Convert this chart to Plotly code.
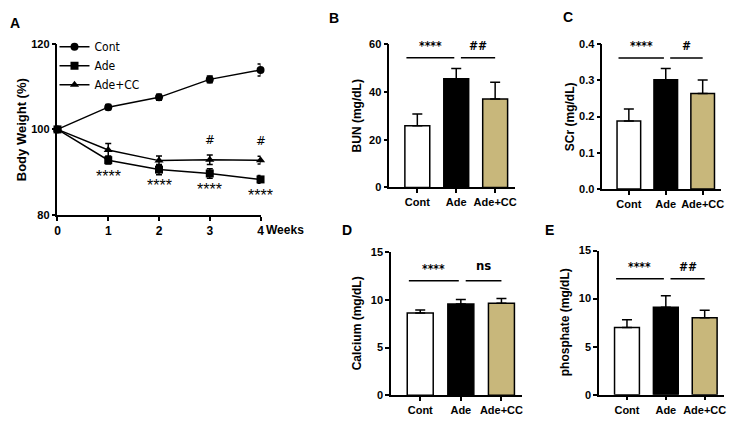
import plotly.graph_objects as go

W, H = 739, 424

# ---- panel A data: body weight (%) by week
weeks = [0, 1, 2, 3, 4]
cont_bw = [100, 105.2, 107.5, 111.7, 113.9]
cont_bw_err = [0, 0.6, 0.7, 0.8, 1.4]
ade_bw = [100, 92.8, 90.6, 89.7, 88.3]
ade_bw_err = [0, 0.9, 1.2, 1.1, 0.9]
adecc_bw = [100, 95.2, 92.7, 92.9, 92.8]
adecc_bw_err = [0, 1.5, 1.1, 1.1, 0.9]
star_weeks = [1, 2, 3, 4]
hash_weeks = [3, 4]

# ---- bar panels
groups = ["Cont", "Ade", "Ade+CC"]
bun = [25.8, 45.5, 37.0]
bun_err = [5.0, 4.3, 7.1]
scr = [0.188, 0.302, 0.264]
scr_err = [0.033, 0.031, 0.037]
calcium = [8.62, 9.58, 9.65]
calcium_err = [0.33, 0.47, 0.5]
phosphate = [7.0, 9.1, 8.0]
phosphate_err = [0.8, 1.2, 0.8]

bar_colors = ["white", "black", "#C8B77B"]
FONT = "Liberation Sans, Arial, sans-serif"
NARROW = "DejaVu Sans Condensed, Liberation Sans, sans-serif"


def px_x(a, b):
    return [a / W, b / W]


def px_y(top, bottom):
    return [1 - bottom / H, 1 - top / H]


fig = go.Figure()

# ---- panel A
markers = [("Cont", cont_bw, cont_bw_err, "circle"),
           ("Ade", ade_bw, ade_bw_err, "square"),
           ("Ade+CC", adecc_bw, adecc_bw_err, "triangle-up")]
for name, vals, errs, sym in markers:
    fig.add_trace(go.Scatter(
        x=weeks, y=vals, name=name, mode="lines+markers",
        line=dict(color="black", width=1.5),
        marker=dict(symbol=sym, size=8, color="black"),
        error_y=dict(type="data", array=errs, color="black", thickness=1.5, width=3),
        cliponaxis=False, xaxis="x", yaxis="y", showlegend=True,
    ))

fig.update_layout(
    xaxis=dict(domain=px_x(55, 260), range=[0, 4], tickvals=weeks, anchor="y"),
    yaxis=dict(domain=px_y(39, 215), range=[80, 120], tickvals=[80, 100, 120], anchor="x"),
)

annotations = []
for wk in star_weeks:
    i = weeks.index(wk)
    annotations.append(dict(x=wk, y=ade_bw[i], xref="x", yref="y", text="****",
                            showarrow=False, yshift=-16, font=dict(size=16)))
for wk in hash_weeks:
    i = weeks.index(wk)
    annotations.append(dict(x=wk, y=adecc_bw[i], xref="x", yref="y", text="#",
                            showarrow=False, yshift=20, font=dict(size=13, family=NARROW)))
annotations.append(dict(x=263 / W, y=1 - 231 / H, xref="paper", yref="paper", text="<b>Weeks</b>",
                        showarrow=False, xanchor="left", yanchor="middle", font=dict(size=12)))
annotations.append(dict(x=19 / W, y=1 - 127 / H, xref="paper", yref="paper",
                        text="<b>Body Weight (%)</b>", textangle=-90, showarrow=False,
                        xanchor="center", yanchor="middle", font=dict(size=13)))

# ---- bar panels: (values, errors, axis title, ticks, range, x px, y px, sig level, sig labels,
#                   panel letter, letter pos, title x)
bar_panels = [
    (bun, bun_err, "BUN (mg/dL)", [0, 20, 40, 60], [0, 60], (390, 516.5), (39.3, 186.7),
     54.3, ["****", "##"], "B", (334, 12), 357),
    (scr, scr_err, "SCr (mg/dL)", [0, 0.1, 0.2, 0.3, 0.4], [0, 0.4], (605, 725), (39.3, 188.3),
     0.362, ["****", "#"], "C", (570, 11), 572),
    (calcium, calcium_err, "Calcium (mg/dL)", [0, 5, 10, 15], [0, 15], (391.7, 523.7), (253.3, 400.7),
     12.0, ["****", "ns"], "D", (347, 231), 357),
    (phosphate, phosphate_err, "phosphate (mg/dL)", [0, 5, 10, 15], [0, 15], (601.7, 728), (251.7, 400),
     12.06, ["****", "##"], "E", (552, 231), 567),
]

shapes = []
for k, (vals, errs, title, ticks, yr, xpx, ypx, sig, sig_txt, letter, lpos, tx) in enumerate(bar_panels):
    n = k + 2
    xa, ya = f"x{n}", f"y{n}"
    fig.add_trace(go.Bar(
        x=[0, 1, 2], y=vals, width=0.64,
        marker=dict(color=bar_colors, line=dict(color="black", width=1.5)),
        error_y=dict(type="data", array=errs, arrayminus=[0, 0, 0], color="black",
                     thickness=1.5, width=5),
        xaxis=xa, yaxis=ya, showlegend=False,
    ))
    fig.layout[f"xaxis{n}"] = dict(domain=px_x(*xpx), range=[-0.72, 2.5], tickvals=[0, 1, 2],
                                  ticktext=[f"<b>{g}</b>" for g in groups], anchor=ya, tickangle=0)
    fig.layout[f"yaxis{n}"] = dict(domain=px_y(*ypx), range=yr, tickvals=ticks, anchor=xa)
    annotations.append(dict(x=tx / W, y=1 - (ypx[0] + ypx[1]) / 2 / H, xref="paper", yref="paper",
                            text=f"<b>{title}</b>", textangle=-90, showarrow=False,
                            xanchor="center", yanchor="middle", font=dict(size=12)))
    # significance lines between groups
    for j, (a, b) in enumerate([(0, 1), (1, 2)]):
        x0 = a - 0.28 if j == 0 else a + 0.12
        x1 = b - 0.05 if j == 0 else b + 0.0
        shapes.append(dict(type="line", xref=xa, yref=ya, x0=x0, x1=x1, y0=sig, y1=sig,
                           line=dict(color="black", width=1.5)))
        is_ns = sig_txt[j] == "ns"
        annotations.append(dict(x=(x0 + x1) / 2, y=sig, xref=xa, yref=ya, text=f"<b>{sig_txt[j]}</b>",
                                showarrow=False, yshift=15 if is_ns else 12,
                                font=dict(size=13 if is_ns else 12, family=NARROW)))
    annotations.append(dict(x=lpos[0] / W, y=1 - lpos[1] / H, xref="paper", yref="paper",
                            text=f"<b>{letter}</b>", showarrow=False, xanchor="center",
                            yanchor="middle", font=dict(size=14)))

annotations.append(dict(x=12 / W, y=1 - 17 / H, xref="paper", yref="paper", text="<b>A</b>",
                        showarrow=False, xanchor="center", yanchor="middle", font=dict(size=14)))

axis_style = dict(showgrid=False, zeroline=False, showline=True, linecolor="black", linewidth=1.5,
                  ticks="outside", ticklen=4, tickwidth=1.5, tickcolor="black",
                  tickfont=dict(size=11, color="black", family=FONT))
for ax in fig.layout:
    if ax.startswith("xaxis") or ax.startswith("yaxis"):
        fig.layout[ax].update(axis_style)
fig.layout.xaxis.tickfont.size = 12
fig.layout.xaxis.ticktext = [f"<b>{w}</b>" for w in weeks]
fig.layout.yaxis.ticktext = ["<b>80</b>", "<b>100</b>", "<b>120</b>"]
fig.layout.yaxis2.ticktext = [f"<b>{t}</b>" for t in bar_panels[0][3]]
fig.layout.yaxis3.ticktext = [f"<b>{t:.1f}</b>" for t in bar_panels[1][3]]
fig.layout.yaxis4.ticktext = [f"<b>{t}</b>" for t in bar_panels[2][3]]
fig.layout.yaxis5.ticktext = [f"<b>{t}</b>" for t in bar_panels[3][3]]

fig.update_layout(
    width=W, height=H,
    margin=dict(l=0, r=0, t=0, b=0),
    paper_bgcolor="white", plot_bgcolor="white",
    font=dict(family=FONT, color="black", size=11),
    shapes=shapes, annotations=annotations,
    legend=dict(x=52 / W, y=1 - 27 / H, xanchor="left", yanchor="top",
                font=dict(size=12, family=NARROW), tracegroupgap=0, itemwidth=30,
                bgcolor="rgba(0,0,0,0)"),
    bargap=0.3,
)

# the page's default body margin would shift the whole figure
fig.write_html("out.html", config={"displayModeBar": False},
               post_script="document.body.style.margin='0';")
